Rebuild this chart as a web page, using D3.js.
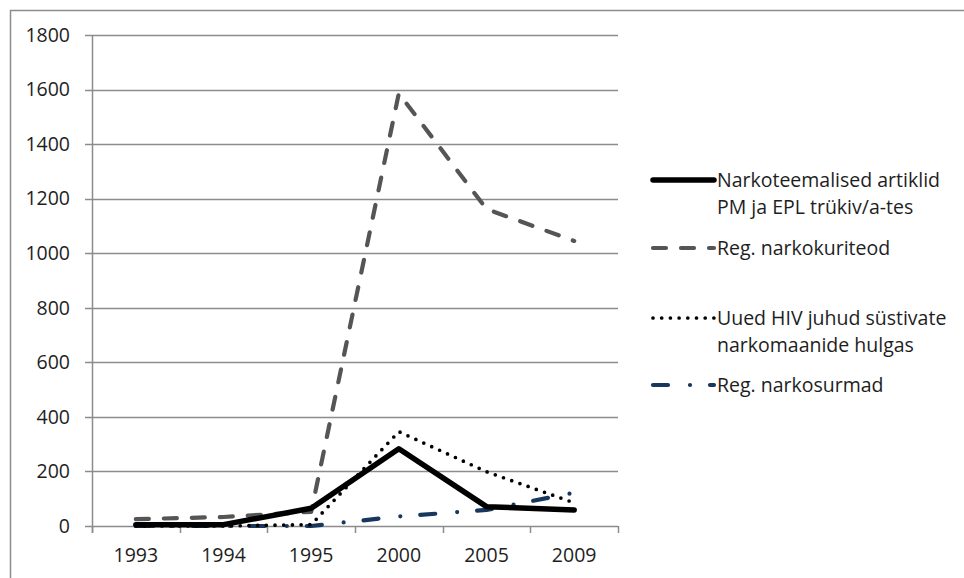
<!DOCTYPE html>
<html><head><meta charset="utf-8">
<script src="https://cdn.jsdelivr.net/npm/d3@7"></script>
<style>body{margin:0;background:#fff}svg{display:block}text{font-family:"Open Sans",sans-serif;fill:#1e1e1e}</style>
</head><body>
<svg id="c" width="964" height="578"></svg>
<script>
const categories = ["1993","1994","1995","2000","2005","2009"];
const yTicks = [0,200,400,600,800,1000,1200,1400,1600,1800];
const articles = [5, 5, 65, 283, 71, 59];
const crimes = [25, 33, 52, 1586, 1162, 1045];
const hiv = [0, 0, 5, 346, 199, 85];
const deaths = [0, 0, 0, 35, 59, 122];
const seriesNames = [
  ["Narkoteemalised artiklid", "PM ja EPL trükiv/a-tes"],
  ["Reg. narkokuriteod"],
  ["Uued HIV juhud süstivate", "narkomaanide hulgas"],
  ["Reg. narkosurmad"]
];

const svg = d3.select("#c");
const L = 92, R = 618, T = 35, B = 526;
const FS = 19.5;
const x = d3.scalePoint().domain(categories).range([L, R]).padding(0.5);
const xb = d3.scaleLinear().domain([0, categories.length]).range([L, R]);
const y = d3.scaleLinear().domain([0, 1800]).range([B, T]);
const grid = "#8c8c8c";

svg.append("rect").attr("x",10.5).attr("y",10.5).attr("width",970).attr("height",580)
  .attr("fill","none").attr("stroke","#8c8c8c").attr("stroke-width",1.5);

// gridlines
svg.append("g").selectAll("line").data(yTicks).join("line")
  .attr("x1", L-7).attr("x2", R).attr("y1", d=>Math.round(y(d))+0.5).attr("y2", d=>Math.round(y(d))+0.5)
  .attr("stroke", grid).attr("stroke-width", 1.5);
// y axis line
svg.append("line").attr("x1",L+0.5).attr("x2",L+0.5).attr("y1",T).attr("y2",B+7).attr("stroke",grid).attr("stroke-width",1.5);
// x ticks
svg.append("g").selectAll("line").data(d3.range(categories.length+1)).join("line")
  .attr("x1", d=>Math.round(xb(d))+0.5).attr("x2", d=>Math.round(xb(d))+0.5).attr("y1", B).attr("y2", B+7)
  .attr("stroke", grid).attr("stroke-width", 1.5);
// y labels
svg.append("g").selectAll("text").data(yTicks).join("text")
  .attr("x", 70).attr("y", d=>y(d)).attr("dy","0.35em").attr("text-anchor","end")
  .attr("font-size", FS).text(d=>d);
// x labels
svg.append("g").selectAll("text").data(categories).join("text")
  .attr("x", d=>x(d)).attr("y", 555).attr("dy","0.35em").attr("text-anchor","middle")
  .attr("font-size", FS).text(d=>d);

const styles = [
  {data: articles, stroke:"#000", width:5.5, dash:null, cap:"round"},
  {data: crimes, stroke:"#555", width:4.2, dash:"13,15", cap:"round"},
  {data: hiv, stroke:"#000", width:3.7, dash:"0,8.7", cap:"round"},
  {data: deaths, stroke:"#17375e", width:4.2, dash:"15,22,0,20", cap:"round"}
];
const line = d3.line().x((d,i)=>x(categories[i])).y(d=>y(d));
const drawOrder = [3,1,2,0];
drawOrder.forEach(k=>{
  const s = styles[k];
  svg.append("path").datum(s.data).attr("d", line).attr("fill","none")
    .attr("stroke", s.stroke).attr("stroke-width", s.width)
    .attr("stroke-dasharray", s.dash).attr("stroke-linecap", s.cap).attr("stroke-linejoin","round");
});

// legend
const legY = [180, 248, 318, 385];
const lg = svg.append("g");
styles.forEach((s,i)=>{
  lg.append("line").attr("x1", 653).attr("x2", 714).attr("y1", legY[i]).attr("y2", legY[i])
    .attr("stroke", s.stroke).attr("stroke-width", s.width).attr("stroke-dasharray", s.dash)
    .attr("stroke-linecap", s.cap);
  seriesNames[i].forEach((t,j)=>{
    lg.append("text").attr("x", 717).attr("y", legY[i] + j*27).attr("dy","0.35em")
      .attr("font-size", FS).text(t);
  });
});
</script>
</body></html>
